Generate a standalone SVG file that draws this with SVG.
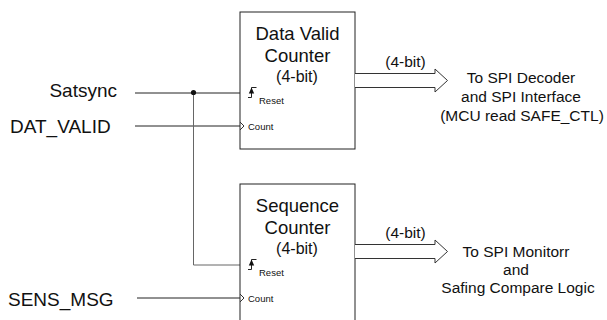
<svg xmlns="http://www.w3.org/2000/svg" width="607" height="320" viewBox="0 0 607 320">
<style>
text{font-family:"Liberation Sans",Arial,sans-serif;fill:#111}
.lbl{font-size:19px}
.ttl{font-size:18.5px;text-anchor:middle}
.bit{font-size:16px;text-anchor:middle}
.sm{font-size:9.5px}
.out{font-size:15.5px;text-anchor:middle}
.box{fill:#fff;stroke:#222;stroke-width:1}
.ln{fill:none;stroke:#222;stroke-width:1}
.br{fill:none;stroke:#666;stroke-width:1}
.bus{fill:#fff;stroke:#333;stroke-width:1}
</style>
<defs>
<g id="resetSym">
<path d="M0 10.5H3.5V0.5H8.5" class="ln"/>
<path d="M3.5 0.5L0.8 6.5H6.2Z" fill="#111"/>
</g>
<path id="chev" d="M0 -4L4 0L0 4" fill="none" stroke="#333" stroke-width="1"/>
<path id="busArrow" d="M0 0H80V-4.5L92.5 7L80 18.5V14H0" class="bus"/>
</defs>
<g id="inputs">
<text class="lbl" x="117" y="97" text-anchor="end">Satsync</text>
<text class="lbl" x="10" y="133">DAT_VALID</text>
<text class="lbl" x="8" y="306">SENS_MSG</text>
</g>
<g id="connectors">
<path class="ln" d="M135 93H240"/>
<path class="ln" d="M135 126H240"/>
<path class="ln" d="M137 298H240"/>
<path class="br" d="M193.5 93V265H240"/>
<circle cx="193.5" cy="92.5" r="2.6" fill="#111"/>
</g>
<g id="dataValidCounter">
<rect class="box" x="240" y="12" width="115" height="137"/>
<text class="ttl" x="297.5" y="40">Data Valid</text>
<text class="ttl" x="297.5" y="62">Counter</text>
<text class="bit" x="297" y="82">(4-bit)</text>
<use href="#resetSym" x="248" y="87"/>
<text class="sm" x="259" y="104">Reset</text>
<use href="#chev" x="240" y="126"/>
<text class="sm" x="248" y="129.5">Count</text>
</g>
<g id="sequenceCounter">
<rect class="box" x="240" y="184" width="115" height="160"/>
<text class="ttl" x="297.5" y="212">Sequence</text>
<text class="ttl" x="297.5" y="234">Counter</text>
<text class="bit" x="297" y="254">(4-bit)</text>
<use href="#resetSym" x="248" y="259"/>
<text class="sm" x="259" y="276">Reset</text>
<use href="#chev" x="240" y="298"/>
<text class="sm" x="248" y="301.5">Count</text>
</g>
<g id="bus1">
<use href="#busArrow" x="355" y="73.5"/>
<text class="out" x="405.5" y="67">(4-bit)</text>
</g>
<g id="bus2">
<use href="#busArrow" x="355" y="244.5"/>
<text class="out" x="405.5" y="238">(4-bit)</text>
</g>
<g id="dest1">
<text class="out" x="521" y="83">To SPI Decoder</text>
<text class="out" x="521" y="102">and SPI Interface</text>
<text class="out" x="522" y="121">(MCU read SAFE_CTL)</text>
</g>
<g id="dest2">
<text class="out" x="516" y="257">To SPI Monitorr</text>
<text class="out" x="516" y="275">and</text>
<text class="out" x="518" y="293">Safing Compare Logic</text>
</g>
</svg>
